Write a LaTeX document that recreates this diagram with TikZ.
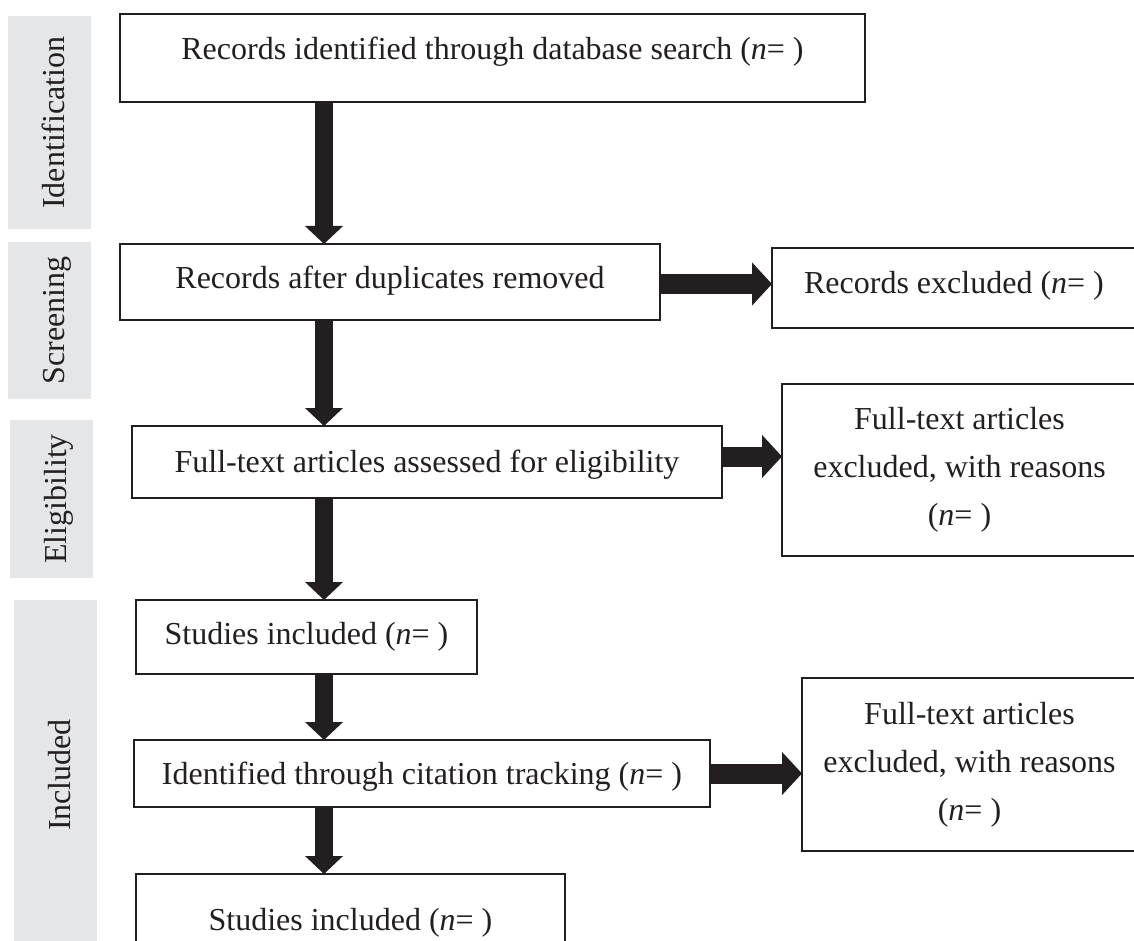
\documentclass[tikz,border=0pt]{standalone}
\usepackage{fontspec}
\setmainfont{Liberation Serif}
\usetikzlibrary{arrows.meta}
\definecolor{barg}{RGB}{229,230,232}
\definecolor{ink}{RGB}{35,31,32}
\begin{document}
\begin{tikzpicture}[x=1pt,y=-1pt,
  box/.style={draw=ink, line width=1.3pt, inner sep=0pt, outer sep=0pt, anchor=north west,
    font=\fontsize{32}{48}\selectfont, align=flush center, text=ink},
  bar/.style={fill=barg, rotate=90, inner sep=0pt, outer sep=0pt, text height=56pt, text depth=27pt,
    font=\fontsize{32}{48}\selectfont, text=ink},
  darr/.style={draw=ink, line width=18pt, -{Triangle[width=37pt,length=18pt]}},
  rarr/.style={draw=ink, line width=20pt, -{Triangle[width=42pt,length=20pt]}},
]
\useasboundingbox (0,0) rectangle (1134,941);
\clip (0,0) rectangle (1134,941);
\fill[white] (0,0) rectangle (1134,941);

% stage bars
\node[bar, minimum width=213pt] (bid) at (49.5,122.5) {Identification};
\node[bar, minimum width=157pt] (bsc) at (49.5,320.5) {Screening};
\node[bar, minimum width=158pt] (bel) at (51.5,499) {Eligibility};
\node[bar, minimum width=350pt] (bin) at (55.5,775) {Included};

% boxes
\node[box, text width=745pt, text height=46pt, text depth=42pt] (b1) at (120,14)
  {Records identified through database search (\textit{n}= )};
\node[box, text width=540pt, text height=44pt, text depth=32pt] (b2) at (120,244)
  {Records after duplicates removed};
\node[box, text width=364pt, text height=45pt, text depth=35pt] (b3) at (772,248)
  {Records excluded (\textit{n}= )};
\node[box, text width=590pt, text height=46pt, text depth=26pt] (b4) at (132,426)
  {Full-text articles assessed for eligibility};
\node[box, text width=355pt, minimum height=172pt] (b5) at (782,384)
  {Full-text articles\\excluded, with reasons\\(\textit{n}= )};
\node[box, text width=341pt, text height=44pt, text depth=30pt] (b6) at (136,600)
  {Studies included (\textit{n}= )};
\node[box, text width=576pt, text height=44pt, text depth=23pt] (b7) at (134,740)
  {Identified through citation tracking (\textit{n}= )};
\node[box, text width=335pt, minimum height=173pt] (b8) at (802,678)
  {Full-text articles\\excluded, with reasons\\(\textit{n}= )};
\node[box, text width=429pt, text height=56pt, text depth=42pt] (b9) at (136,874)
  {Studies included (\textit{n}= )};

% connectors
\coordinate (ax) at (324,0);
\coordinate (ry1) at (0,284);
\coordinate (ry2) at (0,456.5);
\draw[darr] (b1.south -| ax) -- (b2.north -| ax);
\draw[darr] (b2.south -| ax) -- (b4.north -| ax);
\draw[darr] (b4.south -| ax) -- (b6.north -| ax);
\draw[darr] (b6.south -| ax) -- (b7.north -| ax);
\draw[darr] (b7.south -| ax) -- (b9.north -| ax);
\draw[rarr] (b2.east |- ry1) -- (b3.west |- ry1);
\draw[rarr] (b4.east |- ry2) -- (b5.west |- ry2);
\draw[rarr] (b7.east) -- (b7.east -| b8.west);
\end{tikzpicture}
\end{document}
